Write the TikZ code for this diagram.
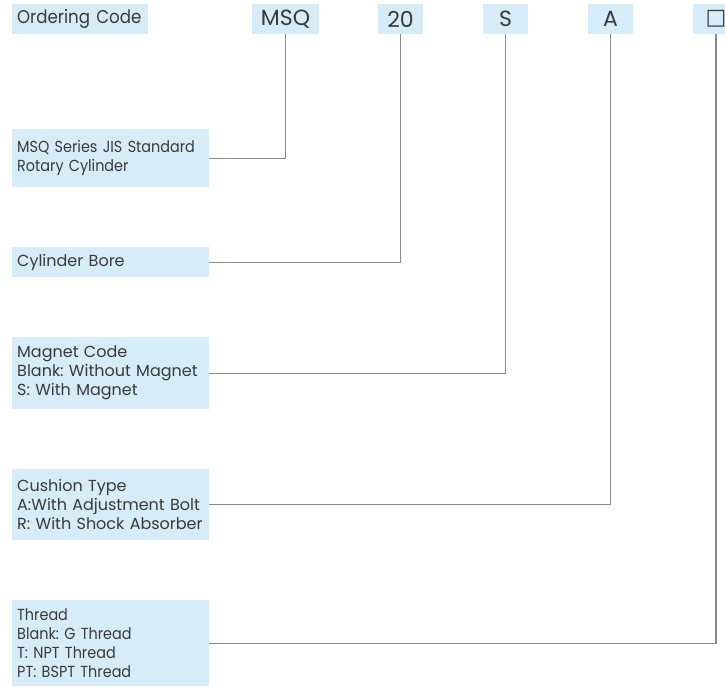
\documentclass[tikz,border=0pt]{standalone}
\usepackage{fontspec}
\setmainfont[WordSpace=0.8]{Poppins}
\newfontfamily\condfont[FakeStretch=0.9,WordSpace=0.8]{Poppins}
\newfontfamily\symfont{DejaVu Sans}
\usepackage{xcolor}
\usepackage{tikz}
\usetikzlibrary{positioning}
\definecolor{boxblue}{HTML}{D6ECF9}
\definecolor{txtgray}{HTML}{3A3A3A}
\definecolor{linegray}{HTML}{8A8A8A}
\frenchspacing

\begin{document}
\begin{tikzpicture}[
  x=1pt,y=-1pt,
  codebox/.style={fill=boxblue,text=txtgray,minimum height=30pt,
                  inner sep=0pt,font=\fontsize{22}{24}\selectfont},
  descbox/.style={fill=boxblue,text=txtgray,text width=187pt,inner sep=5pt,
                  align=left,anchor=north west,
                  font=\fontsize{16}{19}\selectfont},
  conn/.style ={draw=linegray,line width=1.2pt}]
  \useasboundingbox (0,0) rectangle (725,686);
  % code row
  \node[codebox,minimum width=136pt,font=\condfont\fontsize{18.5}{20}\selectfont,
        text width=126pt,align=left] (ordering) at (80,19) {Ordering Code};
  \node[codebox,minimum width=67pt] (msq) at (285.5,19) {MSQ};
  \node[codebox,minimum width=45pt] (bore) at (400.5,19) {20};
  \node[codebox,minimum width=45pt] (magnet) at (505.5,19) {S};
  \node[codebox,minimum width=45pt] (cushion) at (610.5,19) {A};
  \node[codebox,minimum width=46pt] (thread) at (716,19) {\symfont □};
  % descriptions
  \node[descbox,minimum height=58pt,font=\condfont\fontsize{16}{19}\selectfont]
    (seriesd) at (12,129) {MSQ Series JIS Standard\\Rotary Cylinder};
  \node[descbox,minimum height=30pt] (bored) at (12,247) {Cylinder Bore};
  \node[descbox,minimum height=72pt] (magnetd) at (12,337)
    {Magnet Code\\Blank: Without Magnet\\S: With Magnet};
  \node[descbox,minimum height=71pt] (cushiond) at (12,469)
    {Cushion Type\\A:With Adjustment Bolt\\R: With Shock Absorber};
  \node[descbox,minimum height=86pt,font=\condfont\fontsize{16}{19}\selectfont]
    (threadd) at (12,600) {Thread\\Blank: G Thread\\T: NPT Thread\\PT: BSPT Thread};
  \draw[conn] (seriesd.east) -| (msq.south);
  \draw[conn] (bored.east) -| (bore.south);
  \draw[conn] (magnetd.east) -| (magnet.south);
  \draw[conn] (cushiond.east) -| (cushion.south);
  \draw[conn] (threadd.east) -| (thread.south);
\end{tikzpicture}
\end{document}
